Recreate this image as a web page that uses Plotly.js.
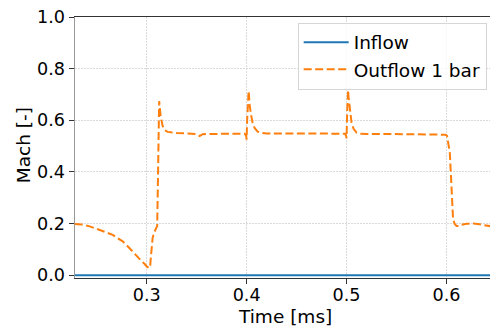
<!DOCTYPE html>
<html>
<head>
<meta charset="utf-8">
<script src="https://cdn.plot.ly/plotly-3.0.1.min.js"></script>
<style>html,body{margin:0;padding:0;background:#fff}#chart{width:490px;height:327px}</style>
</head>
<body>
<div id="chart"></div>
<script>
const inflowTime = [0.228, 0.3, 0.4, 0.5, 0.6, 0.65];
const inflowMach = [0.0, 0.0, 0.0, 0.0, 0.0, 0.0];

const outflowTime = [0.228, 0.235, 0.243, 0.25, 0.258, 0.266, 0.272, 0.276, 0.282, 0.286, 0.29, 0.294, 0.298, 0.300, 0.3025, 0.3035, 0.304, 0.305, 0.306, 0.3075, 0.309, 0.3105, 0.311, 0.3115, 0.312, 0.3125, 0.313, 0.314, 0.316, 0.318, 0.321, 0.325, 0.33, 0.34, 0.35, 0.353, 0.356, 0.36, 0.37, 0.38, 0.39, 0.398, 0.3995, 0.4, 0.4005, 0.401, 0.4015, 0.402, 0.4025, 0.403, 0.4045, 0.406, 0.408, 0.411, 0.415, 0.42, 0.43, 0.45, 0.47, 0.49, 0.4985, 0.4995, 0.5, 0.5005, 0.501, 0.5015, 0.502, 0.5035, 0.505, 0.507, 0.51, 0.514, 0.52, 0.54, 0.56, 0.58, 0.595, 0.599, 0.6005, 0.602, 0.6033, 0.6045, 0.6055, 0.6065, 0.608, 0.61, 0.6125, 0.615, 0.62, 0.627, 0.633, 0.638, 0.645];
const outflowMach = [0.198, 0.196, 0.189, 0.18, 0.168, 0.156, 0.142, 0.131, 0.108, 0.09, 0.073, 0.058, 0.043, 0.034, 0.028, 0.032, 0.06, 0.11, 0.145, 0.165, 0.175, 0.19, 0.3, 0.5, 0.64, 0.674, 0.655, 0.615, 0.578, 0.562, 0.555, 0.552, 0.551, 0.549, 0.546, 0.539, 0.546, 0.547, 0.548, 0.548, 0.548, 0.548, 0.54, 0.525, 0.6, 0.66, 0.705, 0.714, 0.69, 0.66, 0.62, 0.59, 0.57, 0.556, 0.551, 0.549, 0.549, 0.549, 0.549, 0.549, 0.548, 0.54, 0.53, 0.62, 0.7, 0.717, 0.69, 0.63, 0.59, 0.567, 0.552, 0.548, 0.547, 0.547, 0.546, 0.546, 0.545, 0.544, 0.54, 0.5, 0.474, 0.38, 0.28, 0.22, 0.2, 0.19, 0.19, 0.195, 0.199, 0.2, 0.197, 0.194, 0.189];

const xTitle = 'Time [ms]';
const yTitle = 'Mach [-]';

const traces = [
  {x: inflowTime, y: inflowMach, name: 'Inflow', mode: 'lines',
   line: {color: '#1f77b4', width: 2}},
  {x: outflowTime, y: outflowMach, name: 'Outflow 1 bar', mode: 'lines',
   line: {color: '#ff7f0e', width: 2, dash: '8px,3.5px'}}
];

const tickFont = {family: 'DejaVu Sans', size: 17.6, color: '#000'};
const titleFont = {family: 'DejaVu Sans', size: 18.5, color: '#000'};
const layout = {
  width: 490, height: 327,
  margin: {l: 75, r: 0, t: 17, b: 49, pad: 0},
  paper_bgcolor: '#fff', plot_bgcolor: '#fff',
  font: tickFont,
  showlegend: true,
  legend: {x: 0.992, y: 0.978, xanchor: 'right', yanchor: 'top',
    itemwidth: 45,
    bgcolor: 'rgba(255,255,255,0.8)', bordercolor: '#d6d6d6', borderwidth: 1,
    font: titleFont},
  xaxis: {
    range: [0.2283, 0.6435], tickvals: [0.3, 0.4, 0.5, 0.6], ticktext: ['0.3', '0.4', '0.5', '0.6'],
    ticks: 'outside', ticklen: 5, tickcolor: '#333', tickwidth: 1, ticklabelstandoff: -4,
    showline: true, linecolor: '#333', linewidth: 1, mirror: true,
    showgrid: true, gridcolor: '#dadada', griddash: '1.5px,1.5px', gridwidth: 1,
    zeroline: false, tickfont: tickFont
  },
  yaxis: {
    range: [-0.011, 1.0], tickvals: [0, 0.2, 0.4, 0.6, 0.8, 1.0], ticktext: ['0.0', '0.2', '0.4', '0.6', '0.8', '1.0'],
    ticks: 'outside', ticklen: 5, tickcolor: '#333', tickwidth: 1,
    showline: true, linecolor: '#999', linewidth: 1.5,
    showgrid: true, gridcolor: '#dadada', griddash: '1.5px,1.5px', gridwidth: 1,
    zeroline: false, tickfont: tickFont
  },
  annotations: [
    {text: xTitle, xref: 'paper', yref: 'paper', x: 0.506, y: -0.148,
     xanchor: 'center', yanchor: 'middle', showarrow: false, font: titleFont},
    {text: yTitle, xref: 'paper', yref: 'paper', x: -0.122, y: 0.51,
     xanchor: 'center', yanchor: 'middle', textangle: -90, showarrow: false, font: titleFont}
  ]
};
Plotly.newPlot('chart', traces, layout, {staticPlot: true, displayModeBar: false});
</script>
</body>
</html>
